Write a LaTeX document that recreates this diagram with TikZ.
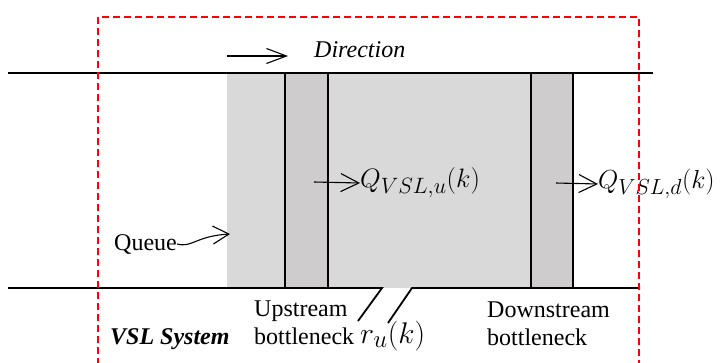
\documentclass[tikz,border=0pt]{standalone}
\usepackage{graphicx}
\usepackage{fontspec}
\setmainfont{Liberation Serif}
\usetikzlibrary{arrows.meta}
\definecolor{queuegray}{HTML}{D9D9D9}
\definecolor{neckgray}{HTML}{CECCCD}
\newcommand{\bigmath}[2]{\scalebox{#1}{$#2$}}
\begin{document}
\begin{tikzpicture}[x=1pt,y=-1pt,
  road/.style={line width=1.8pt},
  neck/.style={line width=2pt},
  barb/.style={-{Straight Barb[length=18pt,width=18pt,line width=1.1pt]},line width=1.1pt},
  lbl/.style={font=\fontsize{24}{28}\selectfont,inner sep=0pt},
  mathlbl/.style={font=\fontsize{24.88}{30}\selectfont,inner sep=0pt}]
\useasboundingbox (0,0) rectangle (720,362);
% queue and bottlenecks
\fill[queuegray] (227,74) rectangle (531,288);
\fill[neckgray] (285,74) rectangle (328,288);
\fill[neckgray] (531,74) rectangle (573,288);
\draw[neck] (285,73) -- (285,288);
\draw[neck] (328,73) -- (328,288);
\draw[neck] (531,73) -- (531,288);
\draw[neck] (573,73) -- (573,288);
% road
\draw[road] (8,73) -- (653,73);
\draw[road] (8,288) -- (382,288) -- (358,321);
\draw[road] (388,323) -- (412,288) -- (640,288);
% direction
\coordinate (dirs) at (227,56);
\coordinate (dire) at (288,56);
\draw[barb,-{Straight Barb[length=20pt,width=15pt,line width=1.1pt]}] (dirs) -- (dire);
\node[lbl,anchor=west,font=\fontsize{24}{28}\selectfont\itshape] (dir) at (314,50) {Direction};
% flows
\coordinate (qus) at (314,182);
\node[mathlbl,anchor=west] (qu) at (360,183) {\bigmath{1.07}{Q_{VSL,u}(k)}};
\draw[barb] (qus) -- (qu.west);
\coordinate (qds) at (556,183);
\node[mathlbl,anchor=west] (qd) at (598,184) {\bigmath{1.05}{Q_{VSL,d}(k)}};
\draw[barb] (qds) -- (qd.west);
% queue label
\node[lbl,anchor=west] (queue) at (114,244) {Queue};
\coordinate (qtip) at (230,234);
\draw[barb,-{Straight Barb[length=16pt,width=18pt,line width=1.1pt]}] (queue.east) .. controls (192,248) and (196,236) .. (qtip);
% labels below
\node[lbl,anchor=north west,align=left] (up) at (254,301) {Upstream\\bottleneck};
\node[mathlbl,anchor=west] (ru) at (360,336) {\bigmath{1.2}{r_u(k)}};
\node[lbl,anchor=north west,align=left] (down) at (487,302) {Downstream\\bottleneck};
\node[lbl,anchor=west,font=\fontsize{24}{28}\selectfont\bfseries\itshape] (vsl) at (110,339) {VSL System};
% system boundary
\draw[red,line width=1.8pt,dash pattern=on 7pt off 4pt] (98,365) -- (98,17) -- (639,17) -- (639,365);
\end{tikzpicture}
\end{document}
